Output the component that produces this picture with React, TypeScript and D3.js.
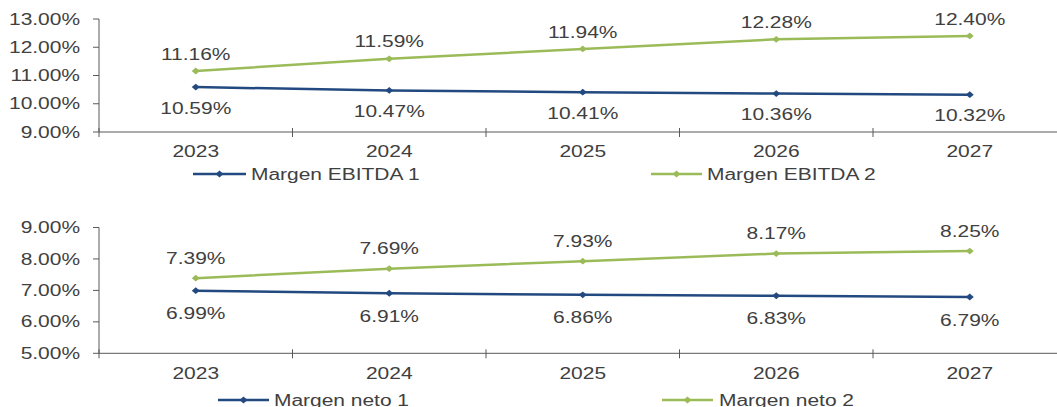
import React from "react";
import * as d3 from "d3";

const years = ["2023", "2024", "2025", "2026", "2027"];
const ebitda1 = [10.59, 10.47, 10.41, 10.36, 10.32];
const ebitda2 = [11.16, 11.59, 11.94, 12.28, 12.4];
const neto1 = [6.99, 6.91, 6.86, 6.83, 6.79];
const neto2 = [7.39, 7.69, 7.93, 8.17, 8.25];
const topTicks = [9, 10, 11, 12, 13];
const bottomTicks = [5, 6, 7, 8, 9];

const BLUE = "#234A80";
const GREEN = "#9BBB59";
const TEXT = "#404040";
const AXIS = "#595959";
const SX = 1.31;
const FONT = "'Liberation Sans', Arial, sans-serif";

const W = 1057;
const H = 407;

const x = d3.scaleBand<string>().domain(years).range([99, 1066.5]).padding(0);

function T({ x, y, text, anchor = "middle" }: { x: number; y: number; text: string; anchor?: string }) {
  return (
    <text
      transform={`translate(${x},${y}) scale(${SX},1)`}
      textAnchor={anchor as any}
      dominantBaseline="central"
      fontFamily={FONT}
      fontSize={16}
      fill={TEXT}
    >
      {text}
    </text>
  );
}

function Diamond({ cx, cy, color, r = 4 }: { cx: number; cy: number; color: string; r?: number }) {
  return (
    <path
      d={`M${cx - r},${cy} L${cx},${cy - r * 0.85} L${cx + r},${cy} L${cx},${cy + r * 0.85} Z`}
      fill={color}
    />
  );
}

type PanelProps = {
  domain: [number, number];
  rangeY: [number, number];
  ticks: number[];
  s1: number[];
  s2: number[];
  name1: string;
  name2: string;
  yearY: number;
  legendY: number;
  leg1: [number, number, number];
  leg2: [number, number, number];
  off1: number;
  off2: number;
};

function Panel(p: PanelProps) {
  const y = d3.scaleLinear().domain(p.domain).range(p.rangeY);
  const line = d3
    .line<number>()
    .x((_, i) => (x(years[i]) as number) + x.bandwidth() / 2)
    .y((d) => y(d));
  const x0 = 99;
  const yb = y(p.domain[0]);
  const yt = y(p.domain[1]);
  const boundaries = years.map((yr) => x(yr) as number);
  const cx = (i: number) => (x(years[i]) as number) + x.bandwidth() / 2;
  return (
    <g>
      {/* axes */}
      <line x1={x0} x2={x0} y1={yt} y2={yb} stroke={AXIS} strokeWidth={1} />
      <line x1={x0} x2={W} y1={yb} y2={yb} stroke={AXIS} strokeWidth={1} />
      {p.ticks.map((t) => (
        <g key={t}>
          <line x1={x0 - 6} x2={x0} y1={y(t)} y2={y(t)} stroke={AXIS} strokeWidth={1} />
          <T x={80} y={y(t)} text={`${t.toFixed(2)}%`} anchor="end" />
        </g>
      ))}
      {boundaries.map((b, i) => (
        <line key={i} x1={b} x2={b} y1={yb - 4} y2={yb + 5} stroke={AXIS} strokeWidth={1} />
      ))}
      {years.map((yr, i) => (
        <T key={yr} x={cx(i)} y={p.yearY} text={yr} />
      ))}
      {/* series */}
      <path d={line(p.s1) || ""} fill="none" stroke={BLUE} strokeWidth={2.5} />
      <path d={line(p.s2) || ""} fill="none" stroke={GREEN} strokeWidth={2.5} />
      {p.s1.map((v, i) => (
        <g key={"a" + i}>
          <Diamond cx={cx(i)} cy={y(v)} color={BLUE} />
          <T x={cx(i)} y={y(v) + p.off1} text={`${v.toFixed(2)}%`} />
        </g>
      ))}
      {p.s2.map((v, i) => (
        <g key={"b" + i}>
          <Diamond cx={cx(i)} cy={y(v)} color={GREEN} />
          <T x={cx(i)} y={y(v) + p.off2} text={`${v.toFixed(2)}%`} />
        </g>
      ))}
      {/* legend */}
      <line x1={p.leg1[0]} x2={p.leg1[1]} y1={p.legendY} y2={p.legendY} stroke={BLUE} strokeWidth={2.5} />
      <Diamond cx={(p.leg1[0] + p.leg1[1]) / 2} cy={p.legendY} color={BLUE} />
      <T x={p.leg1[2]} y={p.legendY} text={p.name1} anchor="start" />
      <line x1={p.leg2[0]} x2={p.leg2[1]} y1={p.legendY} y2={p.legendY} stroke={GREEN} strokeWidth={2.5} />
      <Diamond cx={(p.leg2[0] + p.leg2[1]) / 2} cy={p.legendY} color={GREEN} />
      <T x={p.leg2[2]} y={p.legendY} text={p.name2} anchor="start" />
    </g>
  );
}

export default function App() {
  return (
    <svg
      width={W}
      height={H}
      style={{ position: "absolute", left: 0, top: 0, background: "#fff" }}
    >
      <rect width={W} height={H} fill="#fff" />
      <Panel
        domain={[9, 13]}
        rangeY={[132, 19]}
        ticks={topTicks}
        s1={ebitda1}
        s2={ebitda2}
        name1="Margen EBITDA 1"
        name2="Margen EBITDA 2"
        yearY={151}
        legendY={174}
        leg1={[193, 246, 251]}
        leg2={[651, 702, 707]}
        off1={21}
        off2={-17}
      />
      <Panel
        domain={[5, 9]}
        rangeY={[353.3, 227.5]}
        ticks={bottomTicks}
        s1={neto1}
        s2={neto2}
        name1="Margen neto 1"
        name2="Margen neto 2"
        yearY={373}
        legendY={400}
        leg1={[218, 269, 274]}
        leg2={[662, 713, 719]}
        off1={23}
        off2={-20}
      />
    </svg>
  );
}
